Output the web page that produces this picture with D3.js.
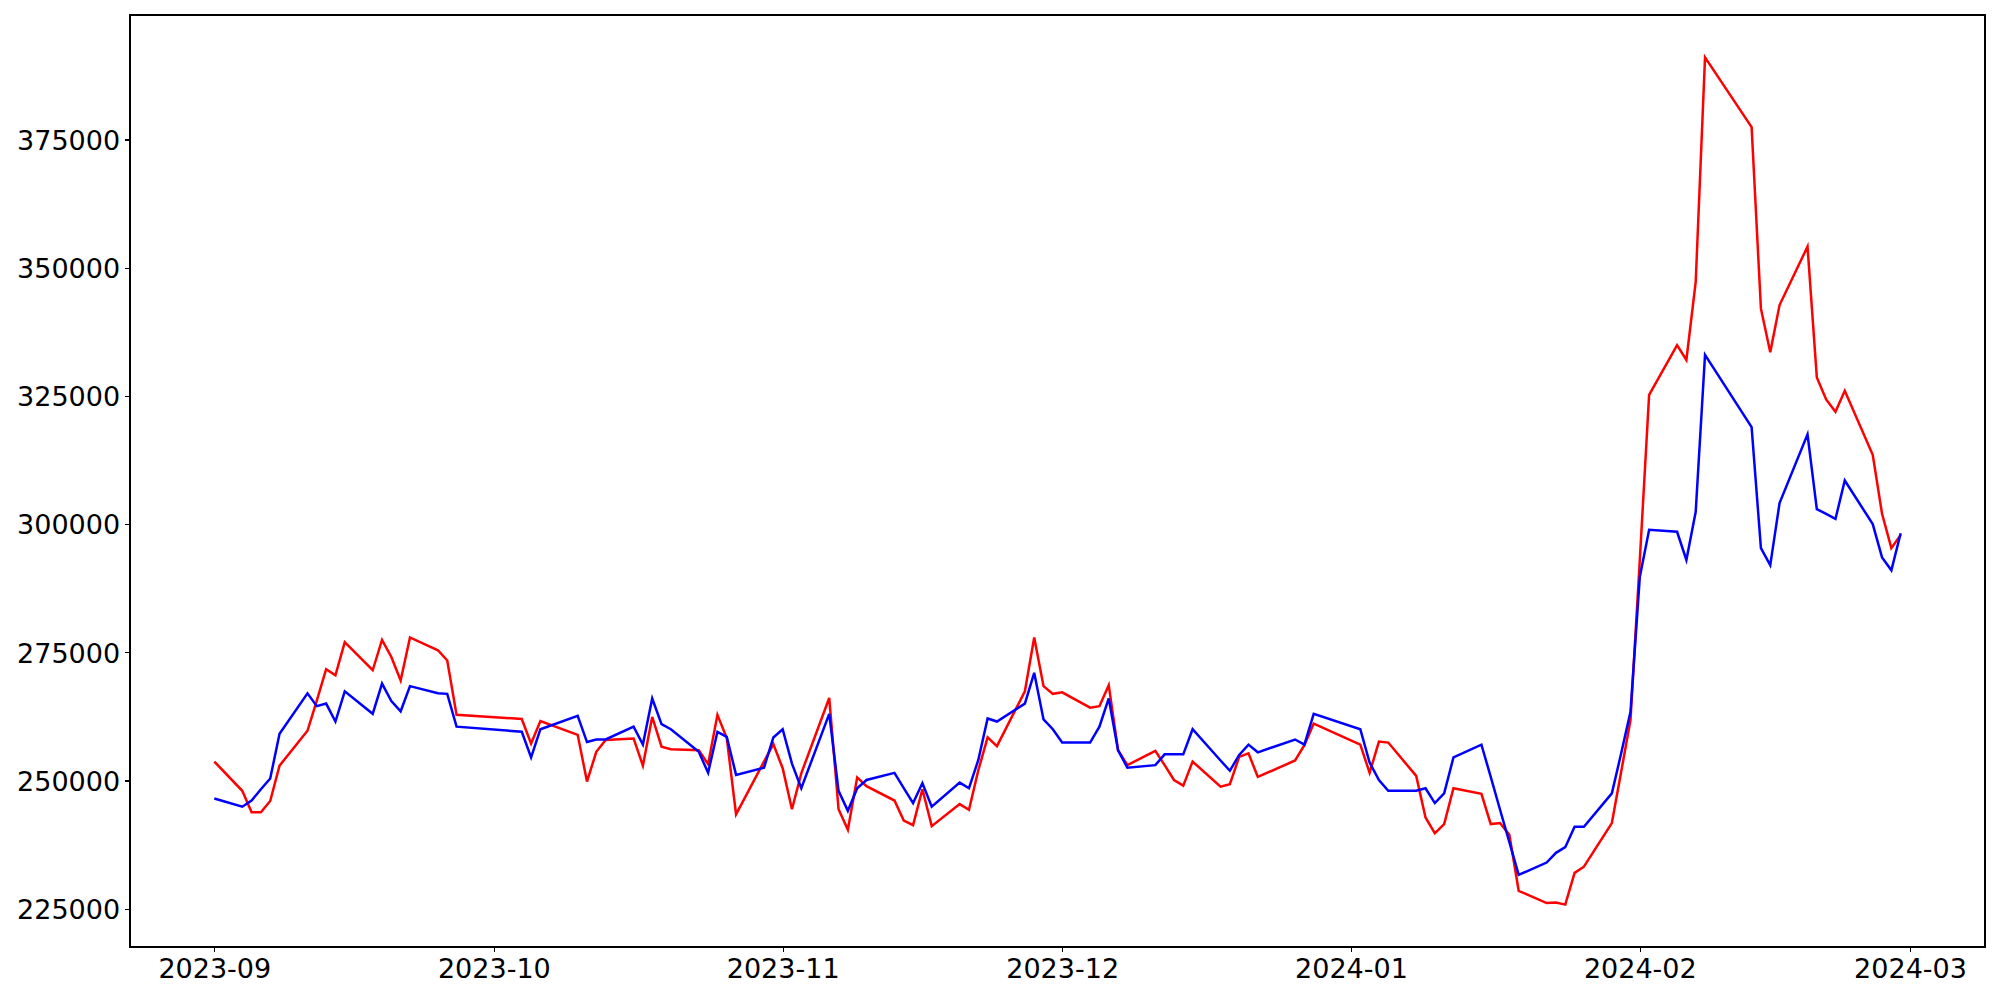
<!DOCTYPE html>
<html>
<head>
<meta charset="utf-8">
<script src="https://cdn.jsdelivr.net/npm/d3@7"></script>
<style>
  html, body { margin: 0; padding: 0; background: #fff; }
  svg { display: block; }
  .tick text { font-family: 'DejaVu Sans', sans-serif; font-size: 27px; fill: #000; }
  .tick line { stroke: #000; stroke-width: 1.2px; shape-rendering: crispEdges; }
</style>
</head>
<body>
<div id="chart"></div>
<script>
// trading days (Korean market calendar, Sep 2023 - Feb 2024)
const dates = [
  '2023-09-01', '2023-09-04', '2023-09-05', '2023-09-06', '2023-09-07', '2023-09-08',
  '2023-09-11', '2023-09-12', '2023-09-13', '2023-09-14', '2023-09-15',
  '2023-09-18', '2023-09-19', '2023-09-20', '2023-09-21', '2023-09-22',
  '2023-09-25', '2023-09-26', '2023-09-27',
  '2023-10-04', '2023-10-05', '2023-10-06',
  '2023-10-10', '2023-10-11', '2023-10-12', '2023-10-13',
  '2023-10-16', '2023-10-17', '2023-10-18', '2023-10-19', '2023-10-20',
  '2023-10-23', '2023-10-24', '2023-10-25', '2023-10-26', '2023-10-27',
  '2023-10-30', '2023-10-31',
  '2023-11-01', '2023-11-02', '2023-11-03',
  '2023-11-06', '2023-11-07', '2023-11-08', '2023-11-09', '2023-11-10',
  '2023-11-13', '2023-11-14', '2023-11-15', '2023-11-16', '2023-11-17',
  '2023-11-20', '2023-11-21', '2023-11-22', '2023-11-23', '2023-11-24',
  '2023-11-27', '2023-11-28', '2023-11-29', '2023-11-30',
  '2023-12-01', '2023-12-04', '2023-12-05', '2023-12-06', '2023-12-07', '2023-12-08',
  '2023-12-11', '2023-12-12', '2023-12-13', '2023-12-14', '2023-12-15',
  '2023-12-18', '2023-12-19', '2023-12-20', '2023-12-21', '2023-12-22',
  '2023-12-26', '2023-12-27', '2023-12-28',
  '2024-01-02', '2024-01-03', '2024-01-04', '2024-01-05',
  '2024-01-08', '2024-01-09', '2024-01-10', '2024-01-11', '2024-01-12',
  '2024-01-15', '2024-01-16', '2024-01-17', '2024-01-18', '2024-01-19',
  '2024-01-22', '2024-01-23', '2024-01-24', '2024-01-25', '2024-01-26',
  '2024-01-29', '2024-01-30', '2024-01-31',
  '2024-02-01', '2024-02-02', '2024-02-05', '2024-02-06', '2024-02-07', '2024-02-08',
  '2024-02-13', '2024-02-14', '2024-02-15', '2024-02-16',
  '2024-02-19', '2024-02-20', '2024-02-21', '2024-02-22', '2024-02-23',
  '2024-02-26', '2024-02-27', '2024-02-28', '2024-02-29'
];

const redValues = [
  253700, 248000, 243800, 243800, 246000, 252900,
  259700, 265600, 271700, 270500, 277000,
  271500, 277400, 274100, 269500, 277900,
  275400, 273400, 262800,
  262000, 257200, 261600,
  258900, 249800, 255600, 257900,
  258200, 252900, 262400, 256600, 256100,
  255900, 253200, 262800, 258300, 243400,
  253700, 257100,
  252400, 244400, 251400,
  266100, 244400, 240400, 250600, 248900,
  246100, 242200, 241300, 248300, 241100,
  245400, 244300, 252000, 258400, 256700,
  267400, 277900, 268400, 266900,
  267200, 264200, 264500, 268600, 255900, 253000,
  255800, 253000, 250100, 249000, 253700,
  248800, 249300, 254600, 255300, 250700,
  253900, 256900, 261100,
  257000, 251500, 257600, 257400,
  250900, 242800, 239700, 241500, 248500,
  247400, 241500, 241700, 239400, 228500,
  226100, 226200, 225800, 232000, 233200,
  241700, 251700, 261800,
  293000, 325200, 334900, 332000, 347200, 391000,
  377400, 342000, 333500, 342700,
  354100, 328600, 324300, 321900, 326000,
  313500, 302000, 295300, 297900
];

const blueValues = [
  246500, 244900, 246100, 248300, 250400, 259100,
  267000, 264500, 265000, 261500, 267400,
  263000, 268900, 265500, 263500, 268400,
  267000, 266900, 260500,
  259500, 254500, 260000,
  262600, 257500, 258000, 258000,
  260500, 257000, 266000, 261000, 260000,
  255600, 251500, 259500, 258500, 251100,
  252500, 258400,
  260000, 253300, 248500,
  263000, 248000, 244100, 248500, 250100,
  251500, 248500, 245600, 249500, 244900,
  249600, 248500, 254000, 262100, 261500,
  265000, 271000, 261900, 260000,
  257400, 257400, 260500, 266000, 255900, 252500,
  253000, 255100, 255100, 255100, 260000,
  253900, 251900, 255000, 257000, 255500,
  258000, 257000, 263000,
  260000, 253500, 250100, 248000,
  248000, 248500, 245600, 247500, 254500,
  257000, 250700, 244300, 238000, 231600,
  234000, 235900, 237000, 241000, 241000,
  247500, 255300, 263400,
  289700, 298900, 298500, 293000, 302400, 333000,
  318900, 295300, 292000, 304100,
  317500, 302900, 302000, 301000, 308500,
  300000, 293500, 291000, 298200
];

const yTicks = [225000, 250000, 275000, 300000, 325000, 350000, 375000];
const xTicks = ['2023-09-01', '2023-10-01', '2023-11-01', '2023-12-01', '2024-01-01', '2024-02-01', '2024-03-01'];

const width = 2000;
const height = 1000;
const margin = {top: 15, right: 15, bottom: 53, left: 130};
const tickLen = 4.9;

const parseDate = d3.timeParse('%Y-%m-%d');
const days = dates.map(parseDate);

// matplotlib-like 5% padding on both axes
function padded(extent, frac) {
  let lo = +extent[0];
  let hi = +extent[1];
  let pad = (hi - lo) * frac;
  return [lo - pad, hi + pad];
}

let xDom = padded(d3.extent(days), 0.05);
let x = d3.scaleTime()
  .domain([new Date(xDom[0]), new Date(xDom[1])])
  .range([margin.left, width - margin.right]);

let y = d3.scaleLinear()
  .domain(padded(d3.extent(redValues.concat(blueValues)), 0.05))
  .range([height - margin.bottom, margin.top]);

let svg = d3.select('#chart')
  .append('svg')
  .attr('width', width)
  .attr('height', height);

let line = d3.line()
  .x(function (d) { return x(d[0]); })
  .y(function (d) { return y(d[1]); });

let series = [
  {color: '#ff0000', values: redValues},
  {color: '#0000ff', values: blueValues}
];

svg.append('defs').append('clipPath')
  .attr('id', 'plot-clip')
  .append('rect')
  .attr('x', margin.left)
  .attr('y', margin.top)
  .attr('width', width - margin.left - margin.right)
  .attr('height', height - margin.top - margin.bottom);

series.forEach(function (s) {
  svg.append('path')
    .datum(days.map(function (d, i) { return [d, s.values[i]]; }))
    .attr('clip-path', 'url(#plot-clip)')
    .attr('fill', 'none')
    .attr('stroke', s.color)
    .attr('stroke-width', 2.5)
    .attr('stroke-linejoin', 'miter')
    .attr('d', line);
});

let xAxis = d3.axisBottom(x)
  .tickValues(xTicks.map(parseDate))
  .tickFormat(d3.timeFormat('%Y-%m'))
  .tickSize(tickLen)
  .tickSizeOuter(0)
  .tickPadding(6.5);

let yAxis = d3.axisLeft(y)
  .tickValues(yTicks)
  .tickFormat(d3.format('d'))
  .tickSize(tickLen)
  .tickSizeOuter(0)
  .tickPadding(5);

let gx = svg.append('g')
  .attr('transform', 'translate(0,' + (height - margin.bottom) + ')')
  .call(xAxis);
gx.select('.domain').remove();

let gy = svg.append('g')
  .attr('transform', 'translate(' + margin.left + ',0)')
  .call(yAxis);
gy.select('.domain').remove();
gy.selectAll('.tick text').attr('dy', '0.36em');

// frame round the plot area
svg.append('rect')
  .attr('x', margin.left)
  .attr('y', margin.top)
  .attr('width', width - margin.left - margin.right)
  .attr('height', height - margin.top - margin.bottom)
  .attr('fill', 'none')
  .attr('stroke', '#000')
  .attr('stroke-width', 1.2)
  .attr('shape-rendering', 'crispEdges');
</script>
</body>
</html>
